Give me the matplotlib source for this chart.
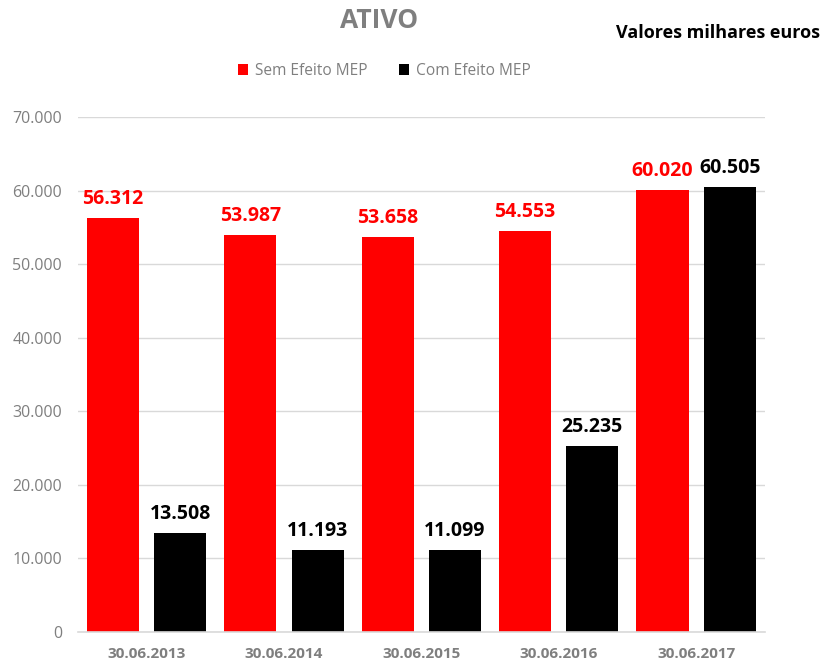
import matplotlib.pyplot as plt
import numpy as np

categories = ["30.06.2013", "30.06.2014", "30.06.2015", "30.06.2016", "30.06.2017"]
sem_efeito = [56312, 53987, 53658, 54553, 60020]
com_efeito = [13508, 11193, 11099, 25235, 60505]
series_names = ["Sem Efeito MEP", "Com Efeito MEP"]
yticks = [0, 10000, 20000, 30000, 40000, 50000, 60000, 70000]

plt.rcParams['font.family'] = ['Open Sans', 'DejaVu Sans']

def fmt(v):
    return f"{v:,}".replace(",", ".")

fig = plt.figure(figsize=(8.25, 6.63), dpi=100)
ax = fig.add_axes([0.0945, 0.0468, 0.8325, 0.7767])

x = np.arange(len(categories))
w = 0.38
off = 0.245
b1 = ax.bar(x - off, sem_efeito, w, color="#FF0000", label=series_names[0], zorder=3)
b2 = ax.bar(x + off, com_efeito, w, color="#000000", label=series_names[1], zorder=3)

for xi, v in zip(x, sem_efeito):
    ax.text(xi - off, v + 1900, fmt(v), ha="center", va="baseline", color="#FF0000",
            fontsize=14, fontweight="bold")
for xi, v in zip(x, com_efeito):
    ax.text(xi + off, v + 1900, fmt(v), ha="center", va="baseline", color="#000000",
            fontsize=14, fontweight="bold")

ax.set_xlim(-0.5, len(categories) - 0.5)
ax.set_ylim(0, 70000)
ax.set_yticks(yticks)
ax.set_yticklabels([fmt(t) if t else "0" for t in yticks], color="#7f7f7f", fontsize=11.5)
ax.set_xticks(x)
ax.set_xticklabels(categories, color="#7f7f7f", fontsize=11, fontweight="bold")
ax.tick_params(axis="both", length=0)
ax.tick_params(axis="y", pad=11.5)
ax.tick_params(axis="x", pad=11)
ax.grid(axis="y", color="#d9d9d9", linewidth=1, zorder=0)
for s in ["top", "right", "left"]:
    ax.spines[s].set_visible(False)
ax.spines["bottom"].set_color("#d9d9d9")
ax.spines["bottom"].set_linewidth(1.2)
ax.spines["bottom"].set_zorder(4)

fig.text(0.459, 0.969, "ATIVO", ha="center", va="center", fontsize=19,
         fontweight="bold", color="#7f7f7f")
fig.text(0.994, 0.950, "Valores milhares euros", ha="right", va="center",
         fontsize=13, fontweight="bold", color="#000000")

leg = fig.legend(handles=[b1, b2], labels=series_names, loc="center",
                 bbox_to_anchor=(0.466, 0.893), ncol=2, frameon=False,
                 fontsize=11.2, handlelength=0.65, handleheight=0.65,
                 handletextpad=0.45, columnspacing=2.0)
for t in leg.get_texts():
    t.set_color("#7f7f7f")

fig.savefig("out.png", dpi=100)
